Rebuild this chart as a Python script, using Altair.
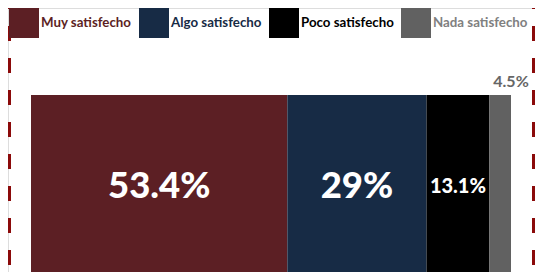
import altair as alt
import pandas as pd

categories = ["Muy satisfecho", "Algo satisfecho", "Poco satisfecho", "Nada satisfecho"]
values = [53.4, 29.0, 13.1, 4.5]
labels = ["53.4%", "29%", "13.1%", "4.5%"]
bar_colors = ["#5c1f24", "#172b45", "#000000", "#616161"]
legend_text_colors = ["#5c1f24", "#172b45", "#000000", "#808080"]

df = pd.DataFrame({
    "cat": categories,
    "value": values,
    "label": labels,
    "order": list(range(len(categories))),
    "row": ["r"] * len(categories),
})

W, H = 527, 264
FONT = "Lato"

color_expr = " : ".join(
    [f"datum.label == '{c}' ? '{col}'" for c, col in zip(categories[:-1], legend_text_colors[:-1])]
) + f" : '{legend_text_colors[-1]}'"

xscale = alt.Scale(domain=[-4.792, 105.0], nice=False, zero=False)
yscale = alt.Scale(paddingInner=0, paddingOuter=0.2458, align=1)

base = alt.Chart(df).transform_window(
    end="sum(value)", sort=[alt.SortField("order")], frame=[None, 0]
).transform_calculate(
    start="datum.end - datum.value", mid="datum.end - datum.value / 2"
)

bars = base.mark_bar(strokeWidth=0).encode(
    x=alt.X("start:Q", scale=xscale, axis=None),
    x2="end:Q",
    y=alt.Y("row:N", scale=yscale, axis=None),
    color=alt.Color(
        "cat:N",
        scale=alt.Scale(domain=categories, range=bar_colors),
        sort=categories,
        legend=alt.Legend(
            title=None,
            orient="none",
            legendX=1,
            legendY=0,
            direction="horizontal",
            symbolType="square",
            symbolSize=900,
            symbolStrokeWidth=0,
            symbolOpacity=1,
            labelFont=FONT,
            labelFontWeight="bold",
            labelFontSize=13.3,
            labelColor=alt.ExprRef(color_expr),
            labelOffset=2,
            columnPadding=7,
            padding=0,
            labelLimit=200,
        ),
    ),
)

inner = base.transform_filter("datum.value >= 10").mark_text(
    font=FONT, fontWeight=900, color="white", baseline="middle", align="center", dy=3.5
).encode(
    x=alt.X("mid:Q", scale=xscale),
    y=alt.Y("row:N", scale=yscale),
    text="label:N",
    size=alt.condition("datum.value > 20", alt.value(36.5), alt.value(20)),
)

outer = base.transform_filter("datum.value < 10").mark_text(
    font=FONT, fontWeight="bold", color="#666666", baseline="alphabetic", align="center",
    fontSize=16, dy=-96.5,
).encode(
    x=alt.X("end:Q", scale=xscale),
    y=alt.Y("row:N", scale=yscale),
    text="label:N",
)

border_left = alt.Chart(df).mark_rule(
    color="#8b0a0a", strokeWidth=3, strokeDash=[15, 17], strokeDashOffset=14
).encode(x=alt.value(1.5), y=alt.value(0), y2=alt.value(H))
border_right = alt.Chart(df).mark_rule(
    color="#8b0a0a", strokeWidth=3, strokeDash=[15, 17], strokeDashOffset=14
).encode(x=alt.value(W - 1.5), y=alt.value(0), y2=alt.value(H))

chart = alt.layer(bars, inner, outer, border_left, border_right).properties(
    width=W, height=H, padding=0, autosize=alt.AutoSizeParams(type="none")
).configure_view(stroke=None).configure(background="white")

chart.save("out.html", embed_options={"renderer": "svg", "actions": False})
